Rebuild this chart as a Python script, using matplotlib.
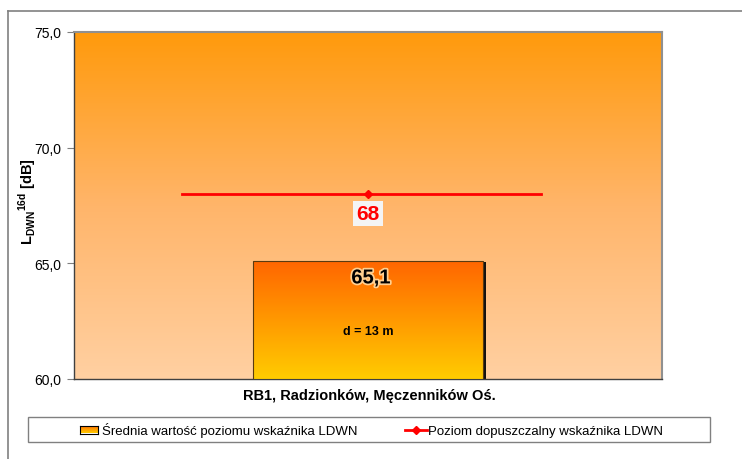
import numpy as np
import matplotlib.pyplot as plt
from matplotlib.patches import Rectangle
from matplotlib.colors import LinearSegmentedColormap
import matplotlib.patheffects as pe

plt.rcParams['font.family'] = ['Liberation Sans', 'DejaVu Sans']
plt.rcParams['mathtext.fontset'] = 'custom'
plt.rcParams['mathtext.rm'] = 'Liberation Sans'
plt.rcParams['mathtext.bf'] = 'Liberation Sans:bold'

# data
categories = ['RB1, Radzionków, Męczenników Oś.']
mean_level = [65.1]
limit_level = 68
distance_note = 'd = 13 m'
series_names = ['Średnia wartość poziomu wskaźnika LDWN',
                'Poziom dopuszczalny wskaźnika LDWN']
y_ticks = [60.0, 65.0, 70.0, 75.0]

W, H = 742, 460
fig = plt.figure(figsize=(W / 100, H / 100), dpi=100)

# outer chart frame (runs off the right and bottom edges)
fig.add_artist(plt.Line2D([8 / W, 1.0], [1 - 12 / H, 1 - 12 / H],
                          transform=fig.transFigure, color='#808080', lw=1.2))
fig.add_artist(plt.Line2D([8 / W, 8 / W], [0, 1 - 12 / H],
                          transform=fig.transFigure, color='#808080', lw=1.2))

ax = fig.add_axes([74 / W, 1 - 380 / H, (662 - 74) / W, (380 - 33) / H])
ax.set_xlim(-0.5, 0.5)
ax.set_ylim(60, 75)

# background gradient of the plot area
bg = LinearSegmentedColormap.from_list('bg', ['#FFD0A2', '#FFB56A', '#FF9A0C'])
grad = np.linspace(0, 1, 256).reshape(-1, 1)
ax.imshow(grad, cmap=bg, origin='lower', aspect='auto',
          extent=[-0.5, 0.5, 60, 75], zorder=0)

# bar with vertical gradient and dark shadow
bar_cmap = LinearSegmentedColormap.from_list('bar', ['#FFCC00', '#FF6600'])
bw = 0.391
x0 = 0.0
for i, val in enumerate(mean_level):
    shadow = Rectangle((x0 - bw / 2 + 0.006, 60), bw, val - 60 - 0.04,
                       facecolor='#111111', edgecolor='none', zorder=2)
    ax.add_patch(shadow)
    ax.imshow(grad, cmap=bar_cmap, origin='lower', aspect='auto',
              extent=[x0 - bw / 2, x0 + bw / 2, 60, val], zorder=3)
    ax.add_patch(Rectangle((x0 - bw / 2, 60), bw, val - 60, facecolor='none',
                           edgecolor='#5a3a10', lw=0.8, zorder=4))
    ax.text(x0 + 0.005, val - 0.73, f'{val:.1f}'.replace('.', ','),
            ha='center', va='center', fontsize=14.5, fontweight='bold', color='black',
            zorder=6, path_effects=[pe.withStroke(linewidth=2.5, foreground='#FFCF90')])
    ax.text(x0, 62.07, distance_note, ha='center', va='center',
            fontsize=9, fontweight='bold', zorder=6)

# permissible level line
ax.plot([-0.3155, 0.294], [limit_level, limit_level], color='#FF0000', lw=2, zorder=5)
ax.plot([x0], [limit_level], marker='D', color='#FF0000', ms=4, zorder=5)
ax.text(x0, limit_level - 0.83, str(limit_level), ha='center', va='center',
        fontsize=15, fontweight='bold', color='#FF0000', zorder=6,
        bbox=dict(boxstyle='square,pad=0.15', facecolor='#F4F4F4', edgecolor='none'))

ax.set_yticks(y_ticks)
ax.set_yticklabels([f'{t:.1f}'.replace('.', ',') for t in y_ticks], fontsize=10)
ax.set_xticks([])
ax.tick_params(axis='y', direction='out', length=5, width=0.8, color='#808080', pad=4)
for side in ['left', 'bottom']:
    ax.spines[side].set_color('#404040')
    ax.spines[side].set_linewidth(1.0)
for side in ['top', 'right']:
    ax.spines[side].set_color('#909090')
    ax.spines[side].set_linewidth(1.5)

ax.set_ylabel(r'$\mathbf{L}_{\mathbf{DWN}}{}^{\mathbf{16d}}$ [dB]', fontsize=10.5,
              fontweight='bold')
ax.yaxis.set_label_coords(-0.062, 0.515)
fig.text(369 / W, 1 - 396 / H, categories[0], ha='center', va='center',
         fontsize=10.5, fontweight='bold')

# legend box
leg_y0, leg_y1 = 1 - 443 / H, 1 - 418 / H
fig.add_artist(Rectangle((28 / W, leg_y0), (710 - 28) / W, leg_y1 - leg_y0,
                         transform=fig.transFigure, facecolor='white',
                         edgecolor='#808080', lw=1.0, zorder=0.5))
ly = 1 - 430.5 / H
base = 1 - 435 / H
lax = fig.add_axes([80 / W, ly - 4 / H, 18 / W, 8 / H], zorder=2)
lax.imshow(grad, cmap=bar_cmap, origin='lower', aspect='auto', extent=[0, 1, 0, 1])
lax.set_xticks([])
lax.set_yticks([])
for s in lax.spines.values():
    s.set_color('black')
    s.set_linewidth(0.8)
fig.text(102 / W, base, series_names[0], ha='left', va='baseline', fontsize=9.5)
fig.add_artist(plt.Line2D([405 / W, 427 / W], [ly, ly], transform=fig.transFigure,
                          color='#FF0000', lw=2))
fig.add_artist(plt.Line2D([416 / W], [ly], transform=fig.transFigure, marker='D',
                          color='#FF0000', ms=4))
fig.text(428 / W, base, series_names[1], ha='left', va='baseline', fontsize=9.5)

fig.savefig('out.png', dpi=100)
